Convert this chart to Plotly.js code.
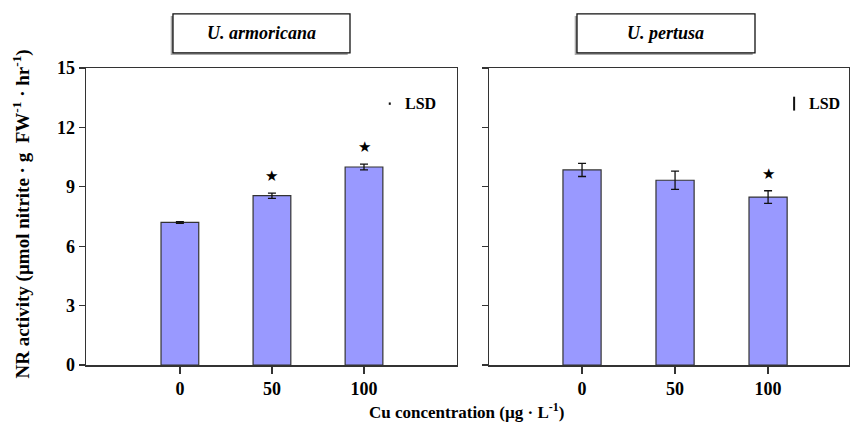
<!DOCTYPE html>
<html>
<head>
<meta charset="utf-8">
<script src="https://cdn.plot.ly/plotly-3.0.1.min.js"></script>
<style>html,body{margin:0;padding:0;background:#fff;}#chart{width:850px;height:431px;}</style>
</head>
<body>
<div id="chart"></div>
<script>
// ---- data ----
var categories = ['0', '50', '100'];
var armoricanaValues = [7.2, 8.55, 10.0];
var armoricanaErrors = [0.04, 0.13, 0.15];
var armoricanaSignificant = [false, true, true];
var pertusaValues = [9.85, 9.33, 8.48];
var pertusaErrors = [0.33, 0.46, 0.32];
var pertusaSignificant = [false, false, true];
var armoricanaLSD = 0.06;
var pertusaLSD = 0.35;
var panelTitles = ['U. armoricana', 'U. pertusa'];
var yTicks = [0, 3, 6, 9, 12, 15];

// ---- styling ----
var FONT = 'Liberation Serif, Times New Roman, serif';
var LINE = '#333333';
var BAR = '#9999ff';
var idx = categories.map(function (c, i) { return i; });

function barTrace(vals, errs, xa, ya) {
  return {
    type: 'bar', x: idx, y: vals, xaxis: xa, yaxis: ya, width: 0.41,
    marker: { color: BAR, line: { color: LINE, width: 1.2 } },
    error_y: { type: 'data', array: errs, visible: true, color: '#111', thickness: 1.3, width: 4 },
    showlegend: false, hoverinfo: 'skip'
  };
}
function lsdTrace(lsd, xa, ya) {
  return {
    type: 'scatter', mode: 'markers', x: [2.28], y: [13.2], xaxis: xa, yaxis: ya,
    marker: { size: 1, color: 'rgba(0,0,0,0)' },
    error_y: { type: 'data', array: [lsd], visible: true, color: '#111', thickness: 2, width: 0 },
    showlegend: false, hoverinfo: 'skip'
  };
}

var data = [
  barTrace(armoricanaValues, armoricanaErrors, 'x', 'y'),
  barTrace(pertusaValues, pertusaErrors, 'x2', 'y2'),
  lsdTrace(armoricanaLSD, 'x', 'y'),
  lsdTrace(pertusaLSD, 'x2', 'y2')
];

var annotations = [];
function addStars(vals, errs, sig, xa, ya) {
  sig.forEach(function (s, i) {
    if (!s) return;
    annotations.push({
      x: i, y: vals[i] + errs[i] + 0.85, xref: xa, yref: ya, text: '★',
      showarrow: false, font: { family: 'DejaVu Sans', size: 15, color: '#000' },
      xanchor: 'center', yanchor: 'middle'
    });
  });
}
addStars(armoricanaValues, armoricanaErrors, armoricanaSignificant, 'x', 'y');
addStars(pertusaValues, pertusaErrors, pertusaSignificant, 'x2', 'y2');

[['x', 'y'], ['x2', 'y2']].forEach(function (ax) {
  annotations.push({
    x: 2.42, y: 13.2, xref: ax[0], yref: ax[1], text: '<b>LSD</b>', showarrow: false,
    xanchor: 'left', yanchor: 'middle', font: { family: FONT, size: 16, color: '#000' }
  });
});

// panel titles in boxes
var boxX = [[0.114, 0.346], [0.6435, 0.8768]];
var shapes = [];
boxX.forEach(function (b, i) {
  var cx = (b[0] + b[1]) / 2;
  shapes.push({ type: 'rect', xref: 'paper', yref: 'paper', x0: b[0] - 0.003, x1: b[1] - 0.003,
    y0: 1.044, y1: 1.175, fillcolor: '#aaaaaa', line: { width: 0 }, layer: 'above' });
  shapes.push({ type: 'rect', xref: 'paper', yref: 'paper', x0: b[0], x1: b[1],
    y0: 1.051, y1: 1.182, fillcolor: '#ffffff', line: { color: '#111', width: 1.3 }, layer: 'above' });
  annotations.push({ x: cx, y: 1.1165, xref: 'paper', yref: 'paper', showarrow: false,
    text: '<b><i>' + panelTitles[i] + '</i></b>', xanchor: 'center', yanchor: 'middle',
    font: { family: FONT, size: 18, color: '#000' } });
});

// axis titles
annotations.push({ x: -0.0839, y: 0.51, xref: 'paper', yref: 'paper', showarrow: false,
  textangle: -90, xanchor: 'center', yanchor: 'middle',
  text: '<b>NR activity (µmol nitrite · g  FW<sup>-1</sup> · hr<sup>-1</sup>)</b>',
  font: { family: FONT, size: 19, color: '#000' } });
annotations.push({ x: 0.4993, y: -0.155, xref: 'paper', yref: 'paper', showarrow: false,
  xanchor: 'center', yanchor: 'middle',
  text: '<b>Cu concentration (µg · L<sup>-1</sup>)</b>',
  font: { family: FONT, size: 17, color: '#000' } });

var tickFont = { family: FONT, size: 18, color: '#000', weight: 'bold' };
function xAxis(domain, range, anchor) {
  return { domain: domain, range: range, anchor: anchor, tickmode: 'array', tickvals: idx,
    ticktext: categories.map(function (c) { return '<b>' + c + '</b>'; }),
    ticks: 'outside', ticklen: 7, tickwidth: 1.3, tickcolor: LINE,
    showline: true, linecolor: LINE, linewidth: 1.5, mirror: true,
    showgrid: false, zeroline: false, tickfont: tickFont, fixedrange: true };
}
function yAxis(anchor, labels) {
  return { domain: [0, 1], range: [0, 15], anchor: anchor, tickmode: 'array', tickvals: yTicks,
    ticktext: yTicks.map(function (t) { return '<b>' + t + '</b>'; }),
    showticklabels: labels,
    ticks: 'outside', ticklen: 6, tickwidth: 1.3, tickcolor: LINE,
    showline: true, linecolor: LINE, linewidth: 1.5, mirror: true,
    showgrid: false, zeroline: false, tickfont: tickFont, fixedrange: true };
}

var layout = {
  width: 850, height: 431,
  margin: { l: 86, r: 1, t: 68, b: 66 },
  paper_bgcolor: '#ffffff', plot_bgcolor: '#ffffff',
  xaxis: xAxis([0, 0.4862], [-1.02, 3.01], 'y'),
  xaxis2: xAxis([0.5282, 1], [-1.0, 2.87], 'y2'),
  yaxis: yAxis('x', true),
  yaxis2: yAxis('x2', false),
  annotations: annotations,
  shapes: shapes,
  showlegend: false,
  font: { family: FONT }
};

Plotly.newPlot('chart', data, layout, { displayModeBar: false, staticPlot: true });
</script>
</body>
</html>
